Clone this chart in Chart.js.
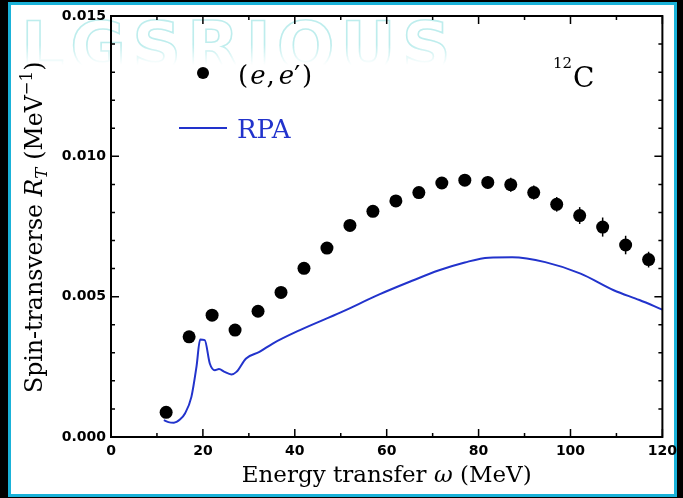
<!DOCTYPE html>
<html>
<head>
<meta charset="utf-8">
<script src="https://cdn.jsdelivr.net/npm/chart.js@4.4.0/dist/chart.umd.min.js"></script>
<style>
    html, body { margin: 0; padding: 0; width: 683px; height: 498px; overflow: hidden; background: #000; }
    #slide {
        position: absolute; left: 8px; top: 2px; width: 669px; height: 495px;
        box-sizing: border-box; border: 3px solid #1ab2d9; background: #fff; overflow: hidden;
    }
    #ghost {
        position: absolute; left: 10px; top: 8px;
        font: bold 68px "DejaVu Sans"; line-height: 1; letter-spacing: 6px; white-space: nowrap;
        color: transparent; -webkit-text-stroke: 1.6px rgba(110, 215, 215, 0.45);
        -webkit-mask-image: linear-gradient(to bottom, #000 0, #000 32px, transparent 52px);
        mask-image: linear-gradient(to bottom, #000 0, #000 32px, transparent 52px);
    }
    #grafico { position: absolute; left: 0; top: 0; }
</style>
</head>
<body>
<div id="slide"><div id="ghost">LGSRIOUS</div></div>
<canvas id="grafico" width="683" height="498"></canvas>
<script>
// dados (e,e') - 12C
const omegaDados = [12, 17, 22, 27, 32, 37, 42, 47, 52, 57, 62, 67, 72, 77, 82, 87, 92, 97, 102, 107, 112, 117];
const rtDados = [0.00088, 0.00357, 0.00434, 0.00381, 0.00448, 0.00515, 0.00601, 0.00673, 0.00754, 0.00804, 0.00841,
                 0.00871, 0.00905, 0.00915, 0.00907, 0.00899, 0.00871, 0.00829, 0.00789, 0.00748, 0.00684, 0.00632];
const rtErros = [0.0001, 0.0001, 0.0001, 0.0001, 0.0001, 0.00015, 0.00015, 0.00015, 0.0002, 0.0002, 0.0002,
                 0.0002, 0.0002, 0.0002, 0.00022, 0.00025, 0.00025, 0.00026, 0.0003, 0.00034, 0.00033, 0.00028];

// curva RPA
const omegaRpa = [11.5, 12.5, 13.7, 15, 16.1, 17.5, 18.6, 19.4, 20.4, 21.5, 22.6, 23.5, 24.7, 26.2, 27.3, 29.4,
                  32.3, 35.2, 41, 50, 58.4, 65, 71.4, 77, 82.2, 87.3, 94.5, 102.2, 109.4, 115, 120];
const rtRpa = [0.00060, 0.00053, 0.00051, 0.00062, 0.00084, 0.00143, 0.00250, 0.00347, 0.00345, 0.00262, 0.00238,
               0.00242, 0.00232, 0.00223, 0.00232, 0.00280, 0.00303, 0.00333, 0.00380, 0.00444, 0.00508, 0.00553,
               0.00594, 0.00622, 0.00639, 0.00640, 0.00623, 0.00582, 0.00523, 0.00488, 0.00454];

const ticksX = [0, 20, 40, 60, 80, 100, 120];
const ticksY = [0, 0.005, 0.010, 0.015];

const azul = '#2233cc';
const serifa = '"DejaVu Serif"';

// desenha texto com partes em italico / sub / sobrescrito
function medirRico(ctx, partes, tam) {
    let w = 0;
    partes.forEach(p => {
        ctx.font = `${p.it ? 'italic ' : ''}${tam * (p.s || 1)}px ${serifa}`;
        w += ctx.measureText(p.t).width + (p.gap || 0);
    });
    return w;
}

function desenharRico(ctx, partes, tam, x, y) {
    partes.forEach(p => {
        ctx.font = `${p.it ? 'italic ' : ''}${tam * (p.s || 1)}px ${serifa}`;
        ctx.fillText(p.t, x, y + (p.dy || 0) * tam);
        x += ctx.measureText(p.t).width + (p.gap || 0);
    });
}

const moldura = {
    id: 'moldura',
    beforeDatasetsDraw(chart) {
        const { ctx, scales: { x, y } } = chart;
        ctx.save();
        ctx.strokeStyle = '#000';
        ctx.lineWidth = 1.5;
        omegaDados.forEach((w, i) => {
            const px = x.getPixelForValue(w);
            ctx.beginPath();
            ctx.moveTo(px, y.getPixelForValue(rtDados[i] - rtErros[i]));
            ctx.lineTo(px, y.getPixelForValue(rtDados[i] + rtErros[i]));
            ctx.stroke();
        });
        ctx.restore();
    },
    afterDraw(chart) {
        const { ctx, chartArea: a, scales: { x, y } } = chart;
        ctx.save();
        ctx.strokeStyle = '#000';
        ctx.lineWidth = 2;
        ctx.strokeRect(a.left, a.top, a.right - a.left, a.bottom - a.top);

        ctx.lineWidth = 1.5;
        for (let v = 0; v <= 120; v += 10) {
            const px = x.getPixelForValue(v);
            const len = v % 20 === 0 ? 8 : 4;
            ctx.beginPath();
            ctx.moveTo(px, a.bottom); ctx.lineTo(px, a.bottom - len);
            ctx.moveTo(px, a.top); ctx.lineTo(px, a.top + len);
            ctx.stroke();
        }
        for (let i = 0; i <= 15; i++) {
            const py = y.getPixelForValue(i / 1000);
            const len = i % 5 === 0 ? 8 : 4;
            ctx.beginPath();
            ctx.moveTo(a.left, py); ctx.lineTo(a.left + len, py);
            ctx.moveTo(a.right, py); ctx.lineTo(a.right - len, py);
            ctx.stroke();
        }

        // titulo do eixo x
        ctx.fillStyle = '#000';
        ctx.textBaseline = 'alphabetic';
        const tituloX = [{ t: 'Energy transfer ' }, { t: 'ω', it: true }, { t: ' (MeV)' }];
        let tam = 20 * 290 / medirRico(ctx, tituloX, 20);
        let w = medirRico(ctx, tituloX, tam);
        desenharRico(ctx, tituloX, tam, (a.left + a.right) / 2 - w / 2, 482);

        // titulo do eixo y
        const tituloY = [{ t: 'Spin-transverse ' }, { t: 'R', it: true }, { t: 'T', it: true, s: 0.7, dy: 0.22, gap: 8 },
                         { t: '(MeV' }, { t: '−1', s: 0.7, dy: -0.42 }, { t: ')' }];
        tam = 20 * 333 / medirRico(ctx, tituloY, 20);
        ctx.save();
        ctx.translate(42, 393);
        ctx.rotate(-Math.PI / 2);
        desenharRico(ctx, tituloY, tam, 0, 0);
        ctx.restore();

        // legenda
        ctx.beginPath();
        ctx.arc(a.left + 92, a.top + 57, 6, 0, Math.PI * 2);
        ctx.fill();
        desenharRico(ctx, [{ t: '(', gap: 2 }, { t: 'e', it: true, gap: 1 }, { t: ',', gap: 4 },
                           { t: 'e', it: true }, { t: '′', gap: 2 }, { t: ')' }], 26, a.left + 127, 84);

        ctx.strokeStyle = azul;
        ctx.lineWidth = 2;
        ctx.beginPath();
        ctx.moveTo(a.left + 68, 128);
        ctx.lineTo(a.left + 116, 128);
        ctx.stroke();
        ctx.fillStyle = azul;
        ctx.font = `26px ${serifa}`;
        ctx.fillText('RPA', a.left + 126, 138);

        // nucleo
        ctx.fillStyle = '#000';
        ctx.font = `15px ${serifa}`;
        ctx.fillText('12', 553, 68);
        ctx.font = `28px ${serifa}`;
        ctx.fillText('C', 573, 87);
        ctx.restore();
    }
};

const fonteTicks = { family: 'DejaVu Sans', weight: 'bold', size: 14 };

new Chart(document.getElementById('grafico'), {
    type: 'scatter',
    data: {
        datasets: [
            {
                label: "(e,e')",
                data: omegaDados.map((w, i) => ({ x: w, y: rtDados[i] })),
                backgroundColor: '#000',
                borderWidth: 0,
                pointRadius: 6.5,
                order: 0
            },
            {
                label: 'RPA',
                data: omegaRpa.map((w, i) => ({ x: w, y: rtRpa[i] })),
                showLine: true,
                borderColor: azul,
                borderWidth: 2,
                pointRadius: 0,
                cubicInterpolationMode: 'monotone',
                order: 1
            }
        ]
    },
    options: {
        responsive: false,
        animation: false,
        layout: { padding: { left: 0, right: 19, top: 16, bottom: 0 } },
        plugins: { legend: { display: false }, tooltip: { enabled: false } },
        scales: {
            x: {
                type: 'linear', min: 0, max: 120,
                afterBuildTicks: s => { s.ticks = ticksX.map(v => ({ value: v })); },
                ticks: { font: fonteTicks, color: '#000', padding: 6, maxRotation: 0 },
                grid: { display: false, drawTicks: false },
                border: { display: false },
                afterFit: s => { s.height = 61; }
            },
            y: {
                type: 'linear', min: 0, max: 0.015,
                afterBuildTicks: s => { s.ticks = ticksY.map(v => ({ value: v })); },
                ticks: { font: fonteTicks, color: '#000', padding: 5, callback: v => v.toFixed(3) },
                grid: { display: false, drawTicks: false },
                border: { display: false },
                afterFit: s => { s.width = 111; }
            }
        }
    },
    plugins: [moldura]
});
</script>
</body>
</html>
